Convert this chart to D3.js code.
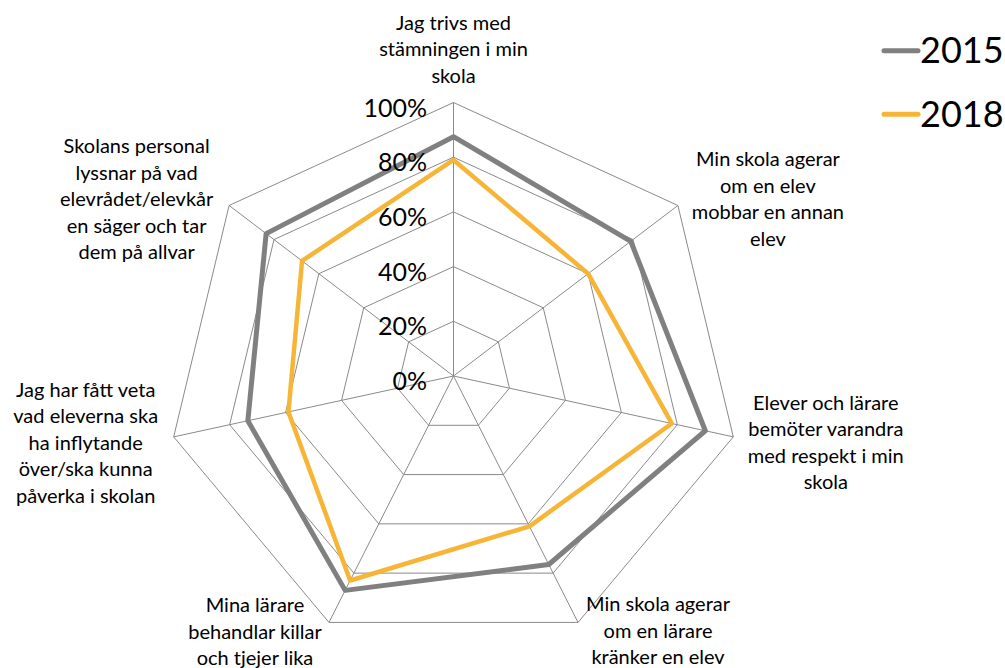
<!DOCTYPE html>
<html>
<head>
<meta charset="utf-8">
<script src="https://cdn.jsdelivr.net/npm/d3@7"></script>
<style>
  body { margin: 0; background: #fff; }
  text { font-family: Lato, "Liberation Sans", sans-serif; fill: #000; }
</style>
</head>
<body>
<svg width="1005" height="668"></svg>
<script>
    var svg = d3.select("svg");

    // data
    var categories = [
        ["Jag trivs med", "stämningen i min", "skola"],
        ["Min skola agerar", "om en elev", "mobbar en annan", "elev"],
        ["Elever och lärare", "bemöter varandra", "med respekt i min", "skola"],
        ["Min skola agerar", "om en lärare", "kränker en elev"],
        ["Mina lärare", "behandlar killar", "och tjejer lika"],
        ["Jag har fått veta", "vad eleverna ska", "ha inflytande", "över/ska kunna", "påverka i skolan"],
        ["Skolans personal", "lyssnar på vad", "elevrådet/elevkår", "en säger och tar", "dem på allvar"]
    ];
    var years = ["2015", "2018"];
    var values2015 = [0.875, 0.79, 0.90, 0.765, 0.87, 0.735, 0.835];
    var values2018 = [0.79, 0.60, 0.78, 0.61, 0.83, 0.59, 0.675];
    var tickValues = [0, 0.2, 0.4, 0.6, 0.8, 1];
    var colors = ["#808080", "#F7B538"];

    var cx = 453.5, cy = 376;
    var n = categories.length;
    var angle = d3.scaleLinear().domain([0, n]).range([0, 2 * Math.PI]);
    var rx = d3.scaleLinear().domain([0, 1]).range([0, 287]);
    var ry = d3.scaleLinear().domain([0, 1]).range([0, 273.5]);

    function pt(i, v) {
        var a = angle(i);
        return [cx + rx(v) * Math.sin(a), cy - ry(v) * Math.cos(a)];
    }

    var line = d3.line().curve(d3.curveLinearClosed);

    // grid rings
    svg.append("g").selectAll("path")
        .data(tickValues.slice(1))
        .enter().append("path")
        .attr("d", function (t) {
            return line(d3.range(n).map(function (i) { return pt(i, t); }));
        })
        .attr("fill", "none")
        .attr("stroke", "#8a8a8a")
        .attr("stroke-width", 1);

    // spokes
    svg.append("g").selectAll("line")
        .data(d3.range(n))
        .enter().append("line")
        .attr("x1", cx).attr("y1", cy)
        .attr("x2", function (i) { return pt(i, 1)[0]; })
        .attr("y2", function (i) { return pt(i, 1)[1]; })
        .attr("stroke", "#8a8a8a")
        .attr("stroke-width", 1);

    // series
    var series = [values2015, values2018];
    svg.append("g").selectAll("path")
        .data(series)
        .enter().append("path")
        .attr("d", function (vals) {
            return line(vals.map(function (v, i) { return pt(i, v); }));
        })
        .attr("fill", "none")
        .attr("stroke", function (d, i) { return colors[i]; })
        .attr("stroke-width", function (d, i) { return i === 0 ? 5 : 4.5; })
        .attr("stroke-linejoin", "round");

    // tick labels
    svg.append("g").selectAll("text")
        .data(tickValues)
        .enter().append("text")
        .attr("x", 427)
        .attr("y", function (t) { return cy - ry(t) + 14; })
        .attr("text-anchor", "end")
        .style("font-size", "25px")
        .text(function (t) { return Math.round(t * 100) + "%"; });

    // category labels: offset from outer vertex (dx, first baseline dy)
    var labelOffsets = [[0, -73], [90, -39], [92.5, -27], [80, -11], [-74, -10], [-88, -40], [-92.5, -52]];
    var lh = 26.5;
    var labels = svg.append("g").selectAll("text")
        .data(categories)
        .enter().append("text")
        .attr("text-anchor", "middle")
        .style("font-size", "20px");
    labels.each(function (lines, i) {
        var p = pt(i, 1), o = labelOffsets[i];
        d3.select(this).selectAll("tspan")
            .data(lines)
            .enter().append("tspan")
            .attr("x", p[0] + o[0])
            .attr("y", function (d, j) { return p[1] + o[1] + j * lh; })
            .text(function (d) { return d; });
    });

    // legend
    var legend = svg.append("g").selectAll("g")
        .data(years)
        .enter().append("g")
        .attr("transform", function (d, i) { return "translate(0," + (50.7 + i * 63.6) + ")"; });
    legend.append("line")
        .attr("x1", 884).attr("x2", 918)
        .attr("stroke", function (d, i) { return colors[i]; })
        .attr("stroke-width", 5)
        .attr("stroke-linecap", "round");
    legend.append("text")
        .attr("x", 920)
        .attr("y", 12.5)
        .style("font-size", "36px")
        .text(function (d) { return d; });
</script>
</body>
</html>
